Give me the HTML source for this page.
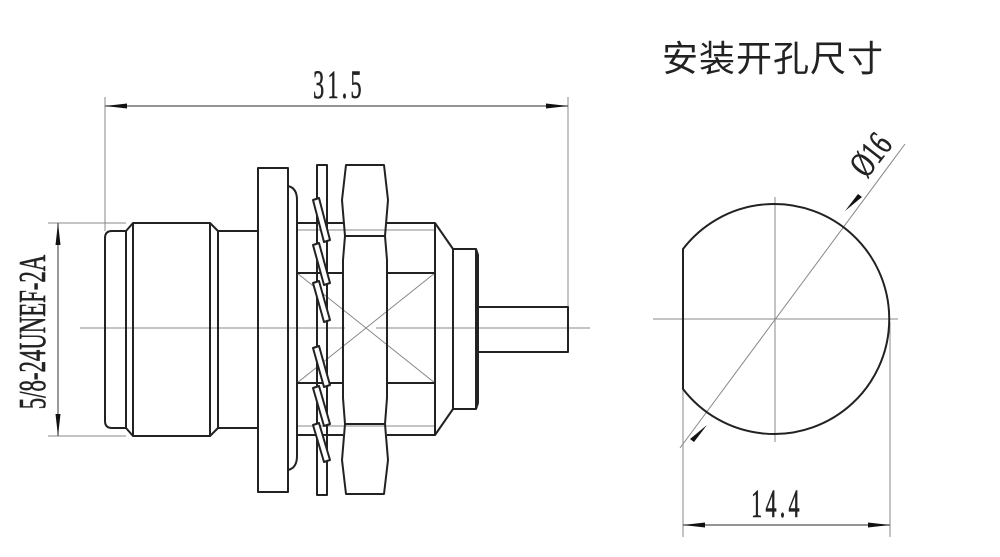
<!DOCTYPE html>
<html><head><meta charset="utf-8"><style>
html,body{margin:0;padding:0;background:#fff;}
svg{display:block;}
.n{font-family:"Liberation Serif",serif;fill:#222;stroke:#222;stroke-width:0.6;}
</style></head><body>
<svg width="1000" height="557" viewBox="0 0 1000 557" xmlns="http://www.w3.org/2000/svg">
<text x="662" y="71" font-family="'Liberation Sans','Noto Sans CJK SC',sans-serif" font-size="36" fill="#222" letter-spacing="1">安装开孔尺寸</text>

<g stroke="#888" stroke-width="1" fill="none">
<line x1="105" y1="97" x2="105" y2="231"/>
<line x1="568" y1="97" x2="568" y2="330"/>
<line x1="48" y1="223" x2="126" y2="223"/>
<line x1="48" y1="436" x2="126" y2="436"/>
<line x1="80" y1="328" x2="345" y2="328"/>
<line x1="376" y1="328" x2="590" y2="328"/>
<line x1="297" y1="273" x2="435" y2="383"/>
<line x1="297" y1="383" x2="435" y2="273"/>
<line x1="297" y1="230" x2="435" y2="230"/>
<line x1="297" y1="426" x2="435" y2="426"/>
<line x1="653" y1="319" x2="898" y2="319"/>
<line x1="775" y1="197" x2="775" y2="442"/>
<line x1="680" y1="448" x2="905" y2="144"/>
<line x1="683" y1="390" x2="683" y2="537"/>
<line x1="890" y1="322" x2="890" y2="537"/>
</g>
<g stroke="#555" stroke-width="1.2">
<line x1="105" y1="106" x2="568" y2="106"/>
<line x1="58" y1="223" x2="58" y2="436"/>
<line x1="683" y1="525" x2="890" y2="525"/>
</g>
<g fill="#111">
<path d="M105,106 L127,103.5 L127,108.5 Z"/>
<path d="M568,106 L546,103.5 L546,108.5 Z"/>
<path d="M58,223 L55.5,245 L60.5,245 Z"/>
<path d="M58,436 L55.5,414 L60.5,414 Z"/>
<path d="M683,525 L705,522.5 L705,527.5 Z"/>
<path d="M890,525 L868,522.5 L868,527.5 Z"/>
<path d="M845,211 L858,194 L862,197 Z"/>
<path d="M707,425 L694,442 L690,439 Z"/>
</g>
<text class="n" x="0" y="0" font-size="40" text-anchor="middle" letter-spacing="6" transform="translate(339,98) scale(0.55,1)">31.5</text>
<text class="n" x="0" y="0" font-size="40" text-anchor="middle" letter-spacing="6" transform="translate(777,517) scale(0.55,1)">14.4</text>
<text class="n" x="0" y="0" font-size="38" text-anchor="middle" transform="translate(45,332) rotate(-90) scale(0.6,1)">5/8-24UNEF-2A</text>
<text class="n" x="0" y="0" font-size="36" text-anchor="middle" transform="translate(880,162) rotate(-52) scale(0.7,1)">Ø16</text>

<path d="M683,249 A115,115 0 1 1 683,389 Z" fill="none" stroke="#222" stroke-width="2"/>

<g stroke="#222" stroke-width="2" fill="none" stroke-linejoin="round">
<path d="M112,231 L126,231 L126,428 L112,428 Q105,428 105,421 L105,238 Q105,231 112,231 Z"/>
<path d="M126,231 L133,223 L210,223 L218,231 L218,428 L210,436 L133,436 L126,428"/>
<line x1="133" y1="223" x2="133" y2="436"/>
<line x1="210" y1="223" x2="210" y2="436"/>
<path d="M218,231 L258,231 M218,428 L258,428"/>
<rect x="258" y="168" width="30" height="324"/>
<path d="M288,186 Q297,188 297,200 L297,456 Q297,468 288,470"/>
<path d="M297,223 L343,223 M297,273 L343,273 M297,383 L343,383 M297,435 L343,435"/>
<rect x="317" y="165" width="10" height="330"/>
<g fill="#fff">
<path d="M313,200 L319,198 L330,240 L324,242 Z"/>
<path d="M313,245 L319,243 L330,283 L324,285 Z"/>
<path d="M313,283 L319,281 L330,320 L324,322 Z"/>
<path d="M313,348 L319,346 L330,385 L324,387 Z"/>
<path d="M313,388 L319,386 L330,424 L324,426 Z"/>
<path d="M313,425 L319,423 L330,460 L324,462 Z"/>
</g>
<path d="M346,165 L384,165 L388,200 L385,236 L387,260 L387,398 L385,424 L388,460 L384,494 L346,494 L342,460 L345,424 L343,398 L343,260 L345,236 L342,200 Z"/>
<path d="M345,236 L385,236 M345,424 L385,424"/>
<path d="M387,223 L435,223 L453,249 L453,409 L435,435 L387,435"/>
<line x1="435" y1="223" x2="435" y2="435"/>
<path d="M387,273 L435,273 M387,383 L435,383"/>
<path d="M453,249 L476,249 L478,255 L478,403 L476,409 L453,409"/>
<line x1="476" y1="249" x2="476" y2="409"/>
<path d="M478,307 L568,307 L568,352 L478,352"/>
</g>
</svg>
</body></html>
